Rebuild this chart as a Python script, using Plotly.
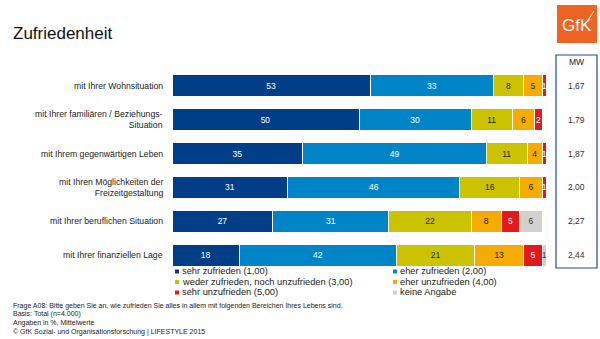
import plotly.graph_objects as go

categories = [
    "mit Ihrer Wohnsituation",
    "mit Ihrer familiären / Beziehungs-<br>Situation",
    "mit Ihrem gegenwärtigen Leben",
    "mit Ihren Möglichkeiten der<br>Freizeitgestaltung",
    "mit Ihrer beruflichen Situation",
    "mit Ihrer finanziellen Lage",
]
series_names = [
    "sehr zufrieden (1,00)",
    "eher zufrieden (2,00)",
    "weder zufrieden, noch unzufrieden (3,00)",
    "eher unzufrieden (4,00)",
    "sehr unzufrieden (5,00)",
    "keine Angabe",
]
sehr_zufrieden = [53, 50, 35, 31, 27, 18]
eher_zufrieden = [33, 30, 49, 46, 31, 42]
weder_noch = [8, 11, 11, 16, 22, 21]
eher_unzufrieden = [5, 6, 4, 6, 8, 13]
sehr_unzufrieden = [1, 2, 1, 1, 5, 5]
keine_angabe = [0, 0, 0, 1, 6, 1]
mittelwerte = ["1,67", "1,79", "1,87", "2,00", "2,27", "2,44"]

series = [sehr_zufrieden, eher_zufrieden, weder_noch, eher_unzufrieden, sehr_unzufrieden, keine_angabe]
colors = ["#003f87", "#0084c8", "#cbc300", "#f5ab00", "#e2191d", "#d4d0cc"]
text_colors = ["white", "white", "#222222", "#222222", "white", "#333333"]

FONT = "Liberation Sans, Arial, sans-serif"

fig = go.Figure()
for name, vals, col, tcol in zip(series_names, series, colors, text_colors):
    fig.add_trace(go.Bar(
        y=categories, x=vals, name=name, orientation="h",
        marker=dict(color=col, line=dict(color="white", width=1)),
        text=[str(v) if v > 0 else "" for v in vals],
        textposition="inside", insidetextanchor="middle",
        insidetextfont=dict(color=tcol, size=8.5, family=FONT),
        constraintext="none", cliponaxis=False,
        hoverinfo="skip", showlegend=False,
    ))

W, H = 600, 339
L, R, T, B = 172, 54, 69, 67
pw = W - L - R
ph = H - T - B

def px_x(x):
    return (x - L) / pw

def px_y(y):
    return 1 - (y - T) / ph

annotations = []
shapes = []
# category labels
for c in categories:
    annotations.append(dict(x=px_x(165), y=c, xref="paper", yref="y", text=c,
                            xanchor="right", yanchor="middle", align="right", showarrow=False,
                            font=dict(size=8.7, color="#222222", family=FONT)))
# MW values
for c, m in zip(categories, mittelwerte):
    annotations.append(dict(x=px_x(576), y=c, xref="paper", yref="y", text=m,
                            xanchor="center", yanchor="middle", showarrow=False,
                            font=dict(size=8.5, color="#333333", family=FONT)))
annotations.append(dict(x=px_x(576), y=px_y(62), xref="paper", yref="paper", text="MW",
                        xanchor="center", yanchor="middle", showarrow=False,
                        font=dict(size=8.5, color="#222222", family=FONT)))
# title
annotations.append(dict(x=px_x(11), y=px_y(34), xref="paper", yref="paper", text="Zufriedenheit",
                        xanchor="left", yanchor="middle", showarrow=False,
                        font=dict(size=17, color="#111111", family=FONT)))
# logo text
annotations.append(dict(x=px_x(577), y=px_y(25), xref="paper", yref="paper", text="GfK",
                        xanchor="center", yanchor="middle", showarrow=False,
                        font=dict(size=17, color="white", family=FONT)))
# legend
leg_pos = [(175, 271), (393, 271), (175, 281.5), (393, 281.5), (175, 292), (393, 292)]
for (lx, ly), name, col in zip(leg_pos, series_names, colors):
    shapes.append(dict(type="rect", xref="paper", yref="paper",
                       x0=px_x(lx), x1=px_x(lx + 4), y0=px_y(ly - 1.5), y1=px_y(ly + 2.5),
                       line=dict(width=0), fillcolor=col))
    annotations.append(dict(x=px_x(lx + 5), y=px_y(ly), xref="paper", yref="paper",
                            text=name,
                            xanchor="left", yanchor="middle", showarrow=False,
                            font=dict(size=9.3, color="#222222", family=FONT)))
# footnotes
foot = [
    ("Frage A08: Bitte geben Sie an, wie zufrieden Sie alles in allem mit folgenden Bereichen Ihres Lebens sind.", 306),
    ("Basis: Total (n=4.000)", 314),
    ("Angaben in %, Mittelwerte", 323),
    ("© GfK Sozial- und Organisationsforschung | LIFESTYLE 2015", 332),
]
for t, fy in foot:
    annotations.append(dict(x=px_x(11), y=px_y(fy), xref="paper", yref="paper", text=t,
                            xanchor="left", yanchor="middle", showarrow=False,
                            font=dict(size=7, color="#222222", family=FONT)))

shapes += [
    dict(type="rect", xref="paper", yref="paper", x0=px_x(556), x1=px_x(597),
         y0=px_y(55), y1=px_y(268), line=dict(color="#1f4e8c", width=1.2), fillcolor="rgba(0,0,0,0)"),
    dict(type="rect", xref="paper", yref="paper", x0=px_x(557), x1=px_x(597),
         y0=px_y(5), y1=px_y(43), line=dict(width=0), fillcolor="#ee6424"),
    dict(type="line", xref="paper", yref="paper", x0=px_x(588), x1=px_x(594),
         y0=px_y(20), y1=px_y(11), line=dict(color="white", width=1)),
]

fig.update_layout(
    barmode="stack", bargap=0.35,
    width=W, height=H,
    margin=dict(l=L, r=R, t=T, b=B, pad=0),
    paper_bgcolor="white", plot_bgcolor="white",
    xaxis=dict(range=[0, 100], visible=False, fixedrange=True),
    yaxis=dict(autorange="reversed", visible=False, fixedrange=True),
    annotations=annotations, shapes=shapes,
    showlegend=False,
    font=dict(family=FONT),
)

fig.write_html("out.html")
